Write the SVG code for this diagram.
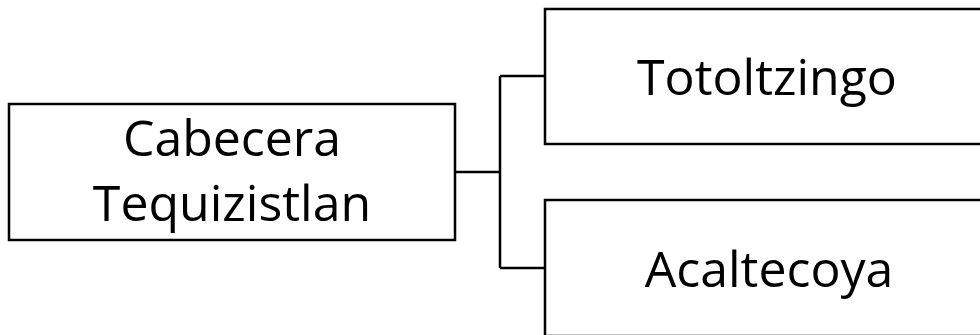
<svg xmlns="http://www.w3.org/2000/svg" width="980" height="335" viewBox="0 0 980 335">
<style>
.box{fill:#fff;stroke:#000;stroke-width:2.5}
.lbl{font-family:"Open Sans","Liberation Sans",sans-serif;font-size:50px;fill:#000;text-anchor:middle}
.conn{fill:none;stroke:#000;stroke-width:2.5}
</style>
<rect width="980" height="335" fill="#fff"/>
<g id="connectors">
<path class="conn" d="M455,172 H500 M500,76 V268 M500,76 H545 M500,268 H545"/>
</g>
<g id="node-cabecera">
<rect class="box" x="9" y="104" width="446" height="136"/>
<text class="lbl" x="232" y="156">Cabecera</text>
<text class="lbl" x="232" y="221">Tequizistlan</text>
</g>
<g id="node-totoltzingo">
<rect class="box" x="545" y="9" width="445" height="135"/>
<text class="lbl" x="767" y="95">Totoltzingo</text>
</g>
<g id="node-acaltecoya">
<rect class="box" x="545" y="200" width="445" height="136"/>
<text class="lbl" x="769" y="287">Acaltecoya</text>
</g>
</svg>
